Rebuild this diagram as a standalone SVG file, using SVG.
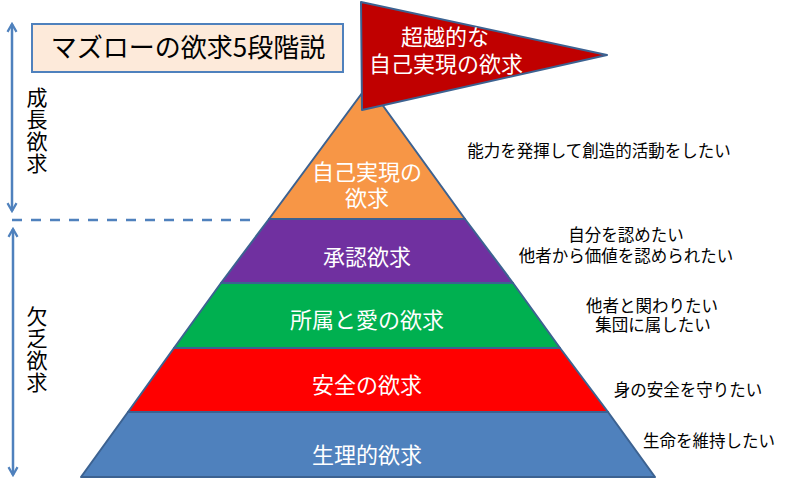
<svg xmlns="http://www.w3.org/2000/svg" width="789" height="490" viewBox="0 0 789 490">
<defs>
<marker id="ah" viewBox="0 0 10 10" refX="8" refY="5" markerWidth="4.5" markerHeight="4.5" orient="auto-start-reverse" markerUnits="strokeWidth">
<path d="M1,1 L8,5 L1,9" fill="none" stroke="#4F81BD" stroke-width="2"/>
</marker>
</defs>
<style>
.band{stroke:#3C6291;stroke-width:2;stroke-linejoin:round}
.w{font-family:"Noto Sans CJK JP","Noto Sans",sans-serif;fill:#fff;font-size:22px;text-anchor:middle}
.b{font-family:"Noto Sans CJK JP","Noto Sans",sans-serif;fill:#000;font-size:16.5px;text-anchor:middle}
.v{font-family:"Noto Sans CJK JP","Noto Sans",sans-serif;fill:#000;font-size:21px;writing-mode:vertical-rl;letter-spacing:1px}
.ar{stroke:#4F81BD;stroke-width:2.5;fill:none}
</style>
<rect width="789" height="490" fill="#fff"/>
<g id="connectors">
<line class="ar" x1="12" y1="24" x2="12" y2="211" marker-start="url(#ah)" marker-end="url(#ah)"/>
<line class="ar" x1="13" y1="229" x2="13" y2="475" marker-start="url(#ah)" marker-end="url(#ah)"/>
<line x1="12" y1="220" x2="252" y2="220" stroke="#4F81BD" stroke-width="2.5" stroke-dasharray="10 9"/>
</g>
<g id="title">
<rect x="32" y="24" width="311" height="48" fill="#FDEADA" stroke="#4F81BD" stroke-width="2"/>
<text x="188" y="57" font-family="Noto Sans CJK JP, Noto Sans, sans-serif" font-size="26" text-anchor="middle" fill="#000">マズローの欲求5段階説</text>
</g>
<g id="label-growth">
<text class="v" x="37" y="87">成長欲求</text>
</g>
<g id="label-deficiency">
<text class="v" x="37" y="306">欠乏欲求</text>
</g>
<g id="level-physiological">
<polygon class="band" points="128,412 608,412 655,477 81,477" fill="#4F81BD"/>
<text class="w" x="367" y="463">生理的欲求</text>
</g>
<g id="level-safety">
<polygon class="band" points="174,348 560,348 608,412 128,412" fill="#FF0000"/>
<text class="w" x="367" y="393">安全の欲求</text>
</g>
<g id="level-belonging">
<polygon class="band" points="221,283 513,283 560,348 174,348" fill="#00B050"/>
<text class="w" x="367" y="328">所属と愛の欲求</text>
</g>
<g id="level-esteem">
<polygon class="band" points="269,219 465,219 513,283 221,283" fill="#7030A0"/>
<text class="w" x="367" y="265">承認欲求</text>
</g>
<g id="level-self-actualization">
<polygon class="band" points="368,85 465,219 269,219" fill="#F79646"/>
<text class="w"><tspan x="367" y="180">自己実現の</tspan><tspan x="367" y="206">欲求</tspan></text>
</g>
<g id="flag">
<polygon points="361,2 607,55 362,110" fill="#C00000" stroke="#3C6291" stroke-width="2" stroke-linejoin="round"/>
<text class="w"><tspan x="445" y="45">超越的な</tspan><tspan x="446" y="72">自己実現の欲求</tspan></text>
</g>
<g id="desc">
<text class="b" x="599" y="157">能力を発揮して創造的活動をしたい</text>
<text class="b"><tspan x="626" y="241">自分を認めたい</tspan><tspan x="626" y="262">他者から価値を認められたい</tspan></text>
<text class="b"><tspan x="652" y="312">他者と関わりたい</tspan><tspan x="653" y="331">集団に属したい</tspan></text>
<text class="b" x="688" y="396">身の安全を守りたい</text>
<text class="b" x="709" y="447">生命を維持したい</text>
</g>
</svg>
